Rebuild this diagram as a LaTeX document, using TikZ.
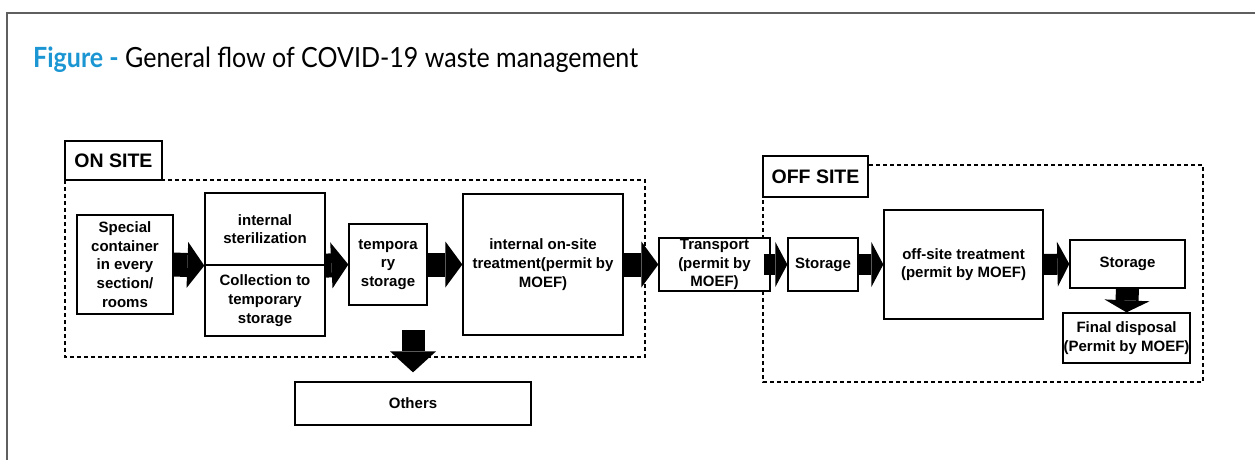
\documentclass[tikz,border=0pt]{standalone}
\usepackage{fontspec}
\setmainfont{Liberation Sans}
\newfontfamily\titlefont[FakeStretch=0.9]{Lato}
\usetikzlibrary{arrows.meta}
\definecolor{figblue}{RGB}{27,150,211}
\definecolor{framegray}{RGB}{95,95,95}

\begin{document}
\begin{tikzpicture}[x=1pt,y=-1pt,
  box/.style={draw,line width=1.3pt,fill=white,align=center,inner sep=0pt,
    font=\fontsize{15}{18.7}\selectfont\bfseries},
  sitelabel/.style={draw,line width=1.3pt,fill=white,inner sep=0pt,
    font=\fontsize{19.5}{22}\selectfont\bfseries},
  region/.style={line width=1.2pt,dash pattern=on 4pt off 3pt},
  flow/.style={line width=24pt,-{Triangle[length=17pt,width=46pt,line width=0pt]}},
  shortflow/.style={line width=21pt,-{Triangle[length=12pt,width=45pt,line width=0pt]}}]
\useasboundingbox (0,0) rectangle (1255,460);
\draw [framegray,line width=1.5pt] (7,460) -- (7,13) -- (1255,13);
\node (title) [anchor=base west,inner sep=0pt,font=\titlefont\fontsize{27.8}{32}\selectfont]
  at (33,67) {\textcolor{figblue}{\bfseries Figure -} General flow of COVID-19 waste management};

% on site
\draw [region] (65,180) rectangle (645,357);
\node (onsite) [sitelabel,minimum width=97pt,minimum height=39pt] at (113.5,160.5) {ON SITE};
\node (spec) [box,minimum width=96pt,minimum height=99pt] at (125,264.5) {Special\\container\\in every\\section/\\rooms};
\node (ster) [box,minimum width=120pt,minimum height=72pt] at (265,229) {internal\\sterilization};
\node (coll) [box,minimum width=120pt,minimum height=71pt] at (265,300.5) {Collection to\\temporary\\storage};
\node (temp) [box,minimum width=78pt,minimum height=81pt] at (388,264.5) {tempora\\ry\\storage};
\node (treat) [box,minimum width=160pt,minimum height=141pt] at (543,264.5) {internal on-site\\treatment(permit by\\MOEF)};
\node (others) [box,minimum width=236pt,minimum height=43pt] at (413,403.5) {Others};
\coordinate (drop) at (413,330);

% off site
\draw [region] (763,165) rectangle (1203,382);
\node (offsite) [sitelabel,minimum width=105pt,minimum height=41pt] at (815.5,176.5) {OFF SITE};
\node (trans) [box,minimum width=111pt,minimum height=53pt] at (714.5,264.5) {Transport\\(permit by\\MOEF)};
\node (store) [box,minimum width=70pt,minimum height=53pt] at (823,264.5) {Storage};
\node (offtreat) [box,minimum width=159pt,minimum height=109pt] at (963.5,264.5) {off-site treatment\\(permit by MOEF)};
\node (store2) [box,minimum width=115pt,minimum height=48pt] at (1127.5,264) {Storage};
\node (final) [box,minimum width=127pt,minimum height=50pt] at (1126.5,338) {Final disposal\\(Permit by MOEF)};

\draw [flow] (spec.east) -- (ster.south west);
\draw [flow] (ster.south east) -- (temp.west);
\draw [flow] (temp.east) -- (treat.west);
\draw [flow] (treat.east) -- (trans.west);
\draw [shortflow,shorten <=-7pt] (trans.east) -- (store.west);
\draw [shortflow] (store.east) -- (offtreat.west);
\draw [shortflow] (offtreat.east) -- (store2.west);
\draw [shortflow,line width=23pt] (store2.south) -- (final.north);
\draw [flow,line width=23pt,-{Triangle[length=21pt,width=46pt,line width=0pt]},shorten >=9pt] (drop) -- (others.north);
\end{tikzpicture}
\end{document}
